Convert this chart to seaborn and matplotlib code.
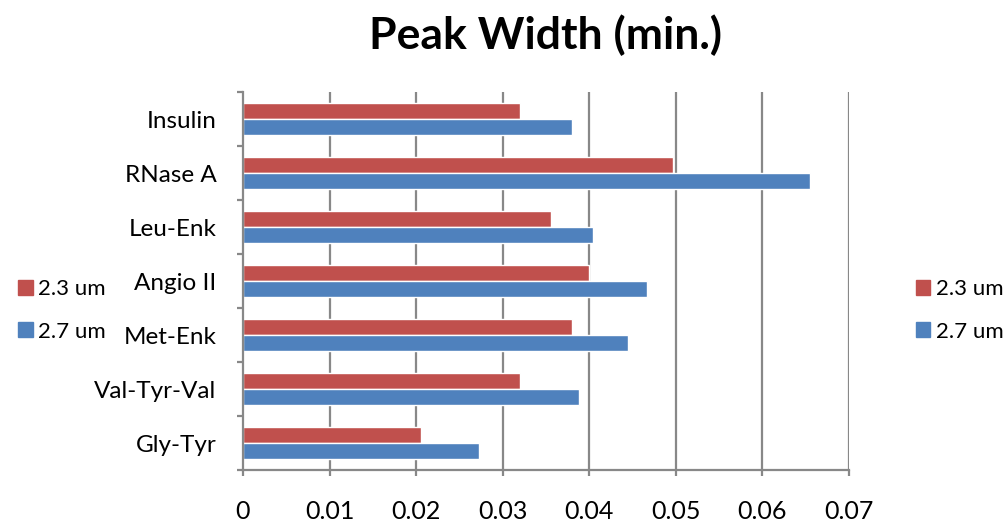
import matplotlib
matplotlib.use("Agg")
import matplotlib.pyplot as plt
import seaborn as sns
import pandas as pd
import numpy as np
from matplotlib.patches import Patch

# Peak widths (min.)
peptides = ['Insulin', 'RNase A', 'Leu-Enk', 'Angio II', 'Met-Enk', 'Val-Tyr-Val', 'Gly-Tyr']
width_23um = [0.0320, 0.0497, 0.0356, 0.0400, 0.0380, 0.0320, 0.0206]
width_27um = [0.0380, 0.0655, 0.0404, 0.0467, 0.0445, 0.0388, 0.0273]
series = ['2.3 um', '2.7 um']
colors = ['#C0504D', '#4F81BD']
x_ticks = [0, 0.01, 0.02, 0.03, 0.04, 0.05, 0.06, 0.07]

df = pd.DataFrame({
    'peptide': peptides * 2,
    'width': width_23um + width_27um,
    'series': [series[0]] * len(peptides) + [series[1]] * len(peptides),
})

sns.set_style('white')
plt.rcParams['font.family'] = ['Lato', 'DejaVu Sans']
plt.rcParams['text.color'] = 'black'
plt.rcParams['xtick.labelcolor'] = 'black'
plt.rcParams['ytick.labelcolor'] = 'black'

fig = plt.figure(figsize=(10.04, 5.22), dpi=100)
ax = fig.add_axes([243 / 1004, 1 - 470 / 522, 606 / 1004, 378 / 522])

sns.barplot(data=df, y='peptide', x='width', hue='series', order=peptides,
            hue_order=series, palette=colors, orient='h', width=0.6,
            saturation=1, ax=ax, legend=False)

ax.set_xlim(0, 0.07)
ax.set_ylim(len(peptides) - 0.5, -0.5)
ax.set_xticks(x_ticks)
ax.set_xticklabels(['0' if t == 0 else f'{t:.2f}' for t in x_ticks])
ax.set_xlabel('')
ax.set_ylabel('')

# vertical gridlines
for t in x_ticks[1:]:
    ax.axvline(t, color='#888888', lw=1.6, zorder=0)

for s in ['top', 'right']:
    ax.spines[s].set_visible(False)
for s in ['left', 'bottom']:
    ax.spines[s].set_color('#888888')
    ax.spines[s].set_linewidth(1.6)

ax.set_yticks(np.arange(len(peptides)))
ax.set_yticklabels(peptides)
ax.set_yticks(np.arange(-0.5, len(peptides)), minor=True)
ax.tick_params(axis='y', which='major', length=0, pad=19, labelsize=17.5)
ax.tick_params(axis='y', which='minor', length=4.5, width=1.6, color='#888888', left=True)
ax.tick_params(axis='x', which='major', length=4.5, width=1.6, color='#888888',
               bottom=True, pad=17, labelsize=18)

ax.set_title('Peak Width (min.)', fontsize=32, fontweight='bold', pad=31)

handles = [Patch(color=c, label=s) for c, s in zip(colors, series)]
for xpos in [0.018, 0.912]:
    fig.legend(handles=handles, loc='center left', bbox_to_anchor=(xpos, 0.405),
               frameon=False, fontsize=16, handlelength=0.65, handleheight=0.65,
               handletextpad=0.25, labelspacing=1.0, borderaxespad=0,
               borderpad=0)

fig.savefig('out.png', dpi=100)
